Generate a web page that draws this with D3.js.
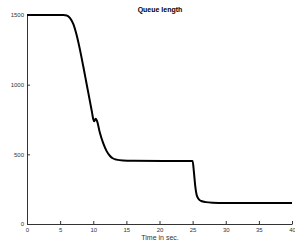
<!DOCTYPE html>
<html>
<head>
<meta charset="utf-8">
<script src="https://cdn.jsdelivr.net/npm/d3@7"></script>
<style>
  html, body { margin:0; padding:0; background:#fff; }
  svg { display:block; font-family:"Liberation Sans", Arial, sans-serif; }
  .axis path, .axis line { stroke:#333; }
  .axis text { fill:#333; font-size:6px; }
</style>
</head>
<body>
<svg id="chart" width="295" height="246"></svg>
<script>
// queue length over time
const timeSec = [0, 5.5, 6.0, 6.5, 7.0, 7.5, 8.0, 8.5, 9.0, 9.5, 9.8, 10.0, 10.15, 10.35, 10.55,
                 11.0, 11.5, 12.0, 12.5, 13.0, 13.5, 14.5, 16, 25.0, 25.2, 25.4, 25.6, 25.9, 26.3,
                 27, 28, 30, 40];
const queueLen = [1500, 1500, 1497, 1478, 1435, 1355, 1250, 1130, 1005, 880, 805, 752, 738, 755, 742,
                  655, 580, 525, 490, 470, 462, 456, 454, 452, 370, 270, 210, 180, 165,
                  157, 153, 151, 150];
const xTicks = [0, 5, 10, 15, 20, 25, 30, 35, 40];
const yTicks = [0, 500, 1000, 1500];

(function(){
  const svg = d3.select('#chart');
  const m = {left:27, right:3, top:15, bottom:22};
  const W = 295, H = 246;

  const x = d3.scaleLinear().domain([0, 40]).range([m.left, W - m.right]);
  const y = d3.scaleLinear().domain([0, 1500]).range([H - m.bottom, m.top]);

  // axes, ticks pointing inward
  svg.append('g').attr('class','axis')
    .attr('transform', `translate(0,${H - m.bottom})`)
    .call(d3.axisBottom(x).tickValues(xTicks).tickFormat(d3.format('d'))
      .tickSize(-3).tickPadding(4).tickSizeOuter(0));
  svg.append('g').attr('class','axis')
    .attr('transform', `translate(${m.left},0)`)
    .call(d3.axisLeft(y).tickValues(yTicks).tickFormat(d3.format('d'))
      .tickSize(-3).tickPadding(3).tickSizeOuter(0));

  const pts = timeSec.map((t,i)=>[t, queueLen[i]]);
  const line = d3.line().x(d=>x(d[0])).y(d=>y(d[1])).curve(d3.curveMonotoneX);
  svg.append('path').datum(pts)
    .attr('d', line)
    .attr('fill','none').attr('stroke','#000').attr('stroke-width',2)
    .attr('stroke-linejoin','round');

  svg.append('text').attr('x', 160).attr('y', 12)
    .attr('text-anchor','middle').attr('font-size', 7).attr('font-weight','bold')
    .text('Queue length');
  svg.append('text').attr('x', 160).attr('y', 240)
    .attr('text-anchor','middle').attr('font-size', 7).attr('fill','#333')
    .text('Time in sec.');
})();
</script>
</body>
</html>
